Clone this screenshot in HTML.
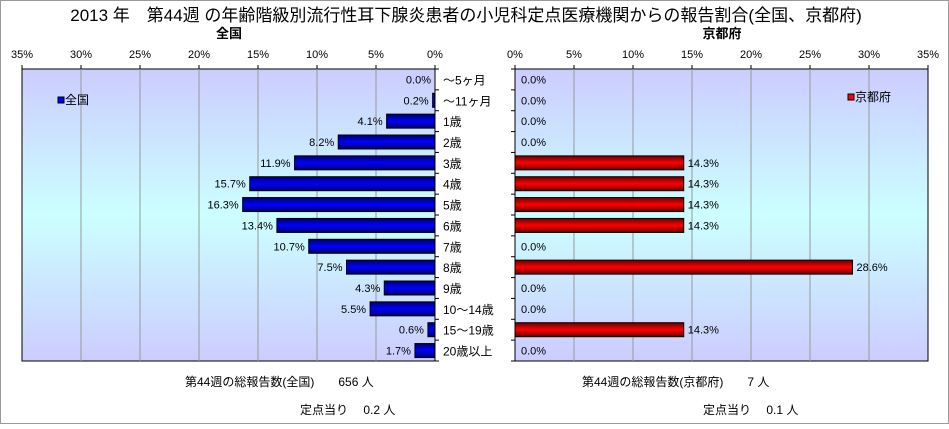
<!DOCTYPE html>
<html><head><meta charset="utf-8"><style>
body{margin:0;background:#fff;font-family:"Liberation Sans","Noto Sans CJK JP",sans-serif;}
svg text{font-family:"Liberation Sans","Noto Sans CJK JP",sans-serif;}
</style></head><body>
<svg id="c" width="949" height="424" xmlns="http://www.w3.org/2000/svg">
<defs>
<linearGradient id="bg" x1="0" y1="0" x2="0" y2="1">
<stop offset="0" stop-color="#ccccff"/><stop offset="0.5" stop-color="#ccffff"/><stop offset="1" stop-color="#ccccff"/></linearGradient>
<linearGradient id="bl" x1="0" y1="0" x2="0" y2="1">
<stop offset="0" stop-color="#000066"/><stop offset="0.5" stop-color="#0000ff"/><stop offset="1" stop-color="#000066"/></linearGradient>
<linearGradient id="rd" x1="0" y1="0" x2="0" y2="1">
<stop offset="0" stop-color="#660000"/><stop offset="0.5" stop-color="#ff0000"/><stop offset="1" stop-color="#660000"/></linearGradient>
</defs>
<rect x="0.5" y="0.5" width="948" height="423" fill="#fff" stroke="#999"/>
<text x="466" y="21" font-size="17" text-anchor="middle">2013 年　第44週 の年齢階級別流行性耳下腺炎患者の小児科定点医療機関からの報告割合(全国、京都府)</text>
<text x="229" y="38" font-size="13" font-weight="bold" text-anchor="middle">全国</text>
<text x="722" y="38" font-size="13" font-weight="bold" text-anchor="middle">京都府</text>
<g id="g"></g>
<text x="185" y="386" font-size="12">第44週の総報告数(全国)　　656 人</text>
<text x="300" y="414" font-size="12">定点当り　 0.2 人</text>
<text x="582" y="386" font-size="12">第44週の総報告数(京都府)　　7 人</text>
<text x="703" y="414" font-size="12">定点当り　 0.1 人</text>
</svg>
<script>
const categories=["～5ヶ月","～11ヶ月","1歳","2歳","3歳","4歳","5歳","6歳","7歳","8歳","9歳","10～14歳","15～19歳","20歳以上"];
const nationalValues=[0.0,0.2,4.1,8.2,11.9,15.7,16.3,13.4,10.7,7.5,4.3,5.5,0.6,1.7];
const kyotoValues=[0.0,0.0,0.0,0.0,14.3,14.3,14.3,14.3,0.0,28.6,0.0,0.0,14.3,0.0];
const tickValues=[0,5,10,15,20,25,30,35];
const NS="http://www.w3.org/2000/svg";
const g=document.getElementById('g');
const plotTop=69,plotBottom=361,W=413,maxV=35;
const L0=435,R0=515;
const rowH=(plotBottom-plotTop)/categories.length;
function mk(t,a,p){const e=document.createElementNS(NS,t);for(const k in a)e.setAttribute(k,a[k]);(p||g).appendChild(e);return e;}
const xl=v=>L0-v/maxV*W, xr=v=>R0+v/maxV*W, yc=i=>plotTop+rowH*(i+0.5);
function panel(side){
 const xf=side==='L'?xl:xr;
 const r=mk('rect',{x:side==='L'?L0-W:R0,y:plotTop,width:W,height:plotBottom-plotTop,fill:'url(#bg)',stroke:'#000'});
 
 
 tickValues.forEach(v=>{
  const x=xf(v);
  if(v>0&&v<35){const l=mk('line',{x1:x,x2:x,y1:plotTop,y2:plotBottom,stroke:'#999'});
   
   }
  const tk=mk('line',{x1:x,x2:x,y1:plotTop-4,y2:plotTop,stroke:'#000'});
  
  
  const t=mk('text',{x:x,y:58,'font-size':11,'text-anchor':'middle'});t.textContent=v+'%';
  
  
 });
 const ax=side==='L'?L0:R0;
 for(let i=0;i<=categories.length;i++){const y=plotTop+rowH*i;
  const m=mk('line',{x1:ax,x2:side==='L'?ax+4:ax-4,y1:y,y2:y,stroke:'#000'});
  
  }
 const vals=side==='L'?nationalValues:kyotoValues;
 vals.forEach((v,i)=>{
  const x0=xf(0),x1=xf(v);
  const b=mk('rect',{x:Math.min(x0,x1),y:yc(i)-7,width:Math.abs(x1-x0),height:14,fill:side==='L'?'url(#bl)':'url(#rd)',stroke:v>0?'#000':'none'});
  
  
  const t=mk('text',{'font-size':11,y:yc(i)+4});
  if(side==='L'){t.setAttribute('x',x1-4);t.setAttribute('text-anchor','end');}
  else{t.setAttribute('x',v>0?x1+4:R0+6);}
  t.textContent=v.toFixed(1)+'%';
  
  
 });
}
panel('L');panel('R');
categories.forEach((c,i)=>{const t=mk('text',{x:443,y:yc(i)+5,'font-size':12});t.textContent=c;
 
 });
function legend(x,y,fill,label,name){
 const gg=mk('g',{});
 
 
 mk('rect',{x:x,y:y-7,width:6,height:6,fill:fill,stroke:'#000'},gg);
 const t=mk('text',{x:x+7,y:y,'font-size':12},gg);t.textContent=label;
}
legend(58,104,'#0000ff','全国','legend-national');
legend(848,101,'#ff0000','京都府','legend-kyoto');
</script>
</body></html>
